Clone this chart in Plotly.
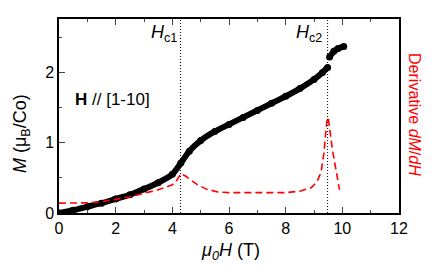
import plotly.graph_objects as go

# Magnetization M (muB/Co) vs field (T)
H_low = [0, 0.5, 1, 1.5, 2, 2.5, 3, 3.5, 4, 4.3, 4.6, 5, 5.5, 6, 6.5, 7, 7.5, 8, 8.5, 9, 9.3, 9.48]
M_low = [0, 0.04, 0.09, 0.14, 0.2, 0.26, 0.34, 0.43, 0.55, 0.71, 0.88, 1.03, 1.16, 1.26, 1.36, 1.46, 1.56, 1.66, 1.77, 1.9, 2.0, 2.07]
H_high = [9.55, 9.7, 9.85, 10.05]
M_high = [2.22, 2.30, 2.34, 2.37]

# Derivative dM/dH (arbitrary units, drawn on right axis)
H_der = [0, 0.5, 1, 1.5, 2, 2.5, 3, 3.5, 4, 4.15, 4.3, 4.45, 4.65, 4.9, 5.2, 5.6, 6, 7, 8, 8.5,
         8.9, 9.1, 9.25, 9.35, 9.45, 9.5, 9.55, 9.65, 9.8, 9.9]
D_der = [0.14, 0.14, 0.145, 0.16, 0.19, 0.23, 0.28, 0.33, 0.40, 0.46, 0.56, 0.53, 0.47, 0.40, 0.34, 0.30,
         0.29, 0.29, 0.29, 0.31, 0.36, 0.44, 0.58, 0.85, 1.3, 1.36, 1.2, 0.9, 0.56, 0.33]

Hc1 = 4.29
Hc2 = 9.48
x_ticks = [0, 2, 4, 6, 8, 10, 12]
y_ticks = [0, 1, 2]
YMAX = 2.76

FONT = "Liberation Sans, Arial, sans-serif"

fig = go.Figure()
fig.add_trace(go.Scatter(x=H_der, y=D_der, mode="lines", yaxis="y2",
                         line=dict(color="#ff0000", width=1.6, dash="7px,4px"),
                         showlegend=False, hoverinfo="skip"))
for hx, my in ((H_low, M_low), (H_high, M_high)):
    fig.add_trace(go.Scatter(x=hx, y=my, mode="lines+markers",
                             line=dict(color="black", width=6, shape="spline", smoothing=0.5),
                             marker=dict(color="black", size=7),
                             showlegend=False))

for hc in (Hc1, Hc2):
    fig.add_shape(type="line", xref="x", yref="paper", x0=hc, x1=hc, y0=0, y1=1,
                  line=dict(color="black", width=1, dash="1px,2px"))

fig.update_layout(
    width=428, height=266, autosize=False,
    margin=dict(l=50.5, r=37, t=9, b=61),
    plot_bgcolor="white", paper_bgcolor="white",
    font=dict(family=FONT, size=16, color="black"),
    xaxis=dict(range=[0, 12], tickvals=x_ticks, ticks="inside", ticklen=6, tickwidth=1.2,
               minor=dict(dtick=1, ticks="inside", ticklen=3.5, tickwidth=1.2),
               showline=True, linecolor="black", linewidth=1.5, mirror="ticks",
               showgrid=False, zeroline=False, tickfont=dict(size=16)),
    yaxis=dict(range=[0, YMAX], tickvals=y_ticks, ticks="inside", ticklen=6, tickwidth=1.2,
               minor=dict(dtick=0.5, ticks="inside", ticklen=3.5, tickwidth=1.2),
               showline=True, linecolor="black", linewidth=1.5, mirror=False,
               showgrid=False, zeroline=False, tickfont=dict(size=16)),
    yaxis2=dict(range=[0, YMAX], overlaying="y", side="right", showticklabels=False,
                ticks="", showline=True, linecolor="black", linewidth=1.5,
                showgrid=False, zeroline=False),
    annotations=[
        dict(text="<i>H</i><sub>c1</sub>", xref="x", yref="paper", x=4.22, y=0.925,
             xanchor="right", yanchor="middle", showarrow=False, font=dict(size=18)),
        dict(text="<i>H</i><sub>c2</sub>", xref="x", yref="paper", x=9.36, y=0.925,
             xanchor="right", yanchor="middle", showarrow=False, font=dict(size=18)),
        dict(text="<b>H</b> // [1-10]", xref="x", yref="paper", x=0.48, y=0.585,
             xanchor="left", yanchor="middle", showarrow=False, font=dict(size=17)),
        dict(text="<i>M</i> (μ<sub>B</sub>/Co)", xref="paper", yref="paper", x=-0.11, y=0.41,
             xanchor="center", yanchor="middle", textangle=-90, showarrow=False, font=dict(size=18)),
        dict(text="<i>μ<sub>0</sub>H</i> (T)", xref="paper", yref="paper", x=0.505, y=-0.199,
             xanchor="center", yanchor="middle", showarrow=False, font=dict(size=18)),
        dict(text="Derivative <i>dM</i>/<i>dH</i>", xref="paper", yref="paper", x=1.047, y=0.505,
             xanchor="center", yanchor="middle", textangle=90, showarrow=False,
             font=dict(size=16, color="#ff0000")),
    ],
)

fig.write_html("out.html")
